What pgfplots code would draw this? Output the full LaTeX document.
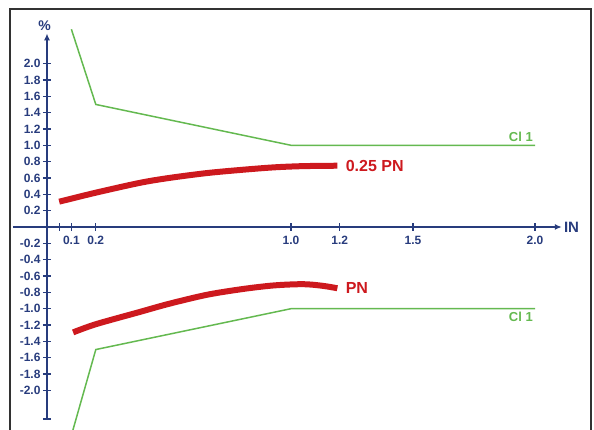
\documentclass[border=0pt]{standalone}
\usepackage{pgfplots}
\pgfplotsset{compat=1.18}
\usetikzlibrary{arrows.meta}
\usepackage{fontspec}
\setmainfont{Liberation Sans}
\definecolor{navy}{RGB}{40,60,125}
\definecolor{cgreen}{RGB}{100,185,80}
\definecolor{cred}{RGB}{205,25,30}
\definecolor{frame}{RGB}{50,50,50}
\begin{document}
\begin{tikzpicture}
\useasboundingbox (-47pt,-203pt) rectangle (547pt,227pt);
\begin{axis}[
  at={(0pt,0pt)}, anchor=origin,
  x=244pt, y=81.7pt,
  axis lines=middle,
  clip=false,
  xmin=-0.14, xmax=2.11, ymin=-2.35, ymax=2.37,
  axis line style={navy, line width=1.5pt, -{Latex[length=7pt,width=6pt]}},
  tick style={navy, line width=1.3pt},
  major tick length=8pt,
  tick align=center,
  xtick={0.05,0.1,0.2,1,1.2,1.5,2},
  xticklabels={,0.1,0.2,1.0,1.2,1.5,2.0},
  ytick={-2,-1.8,-1.6,-1.4,-1.2,-1,-0.8,-0.6,-0.4,-0.2,0.2,0.4,0.6,0.8,1,1.2,1.4,1.6,1.8,2},
  extra y ticks={-2.35},
  extra y tick labels={},
  ticklabel style={font=\bfseries\fontsize{12}{12}\selectfont, text=navy},
  yticklabel style={xshift=1pt, /pgf/number format/.cd, fixed, fixed zerofill, precision=1, assume math mode=true},
  xticklabel style={yshift=-2pt},
]
% upper tolerance limit
\addplot[cgreen, line width=1.5pt] coordinates {(0.1,2.42) (0.2,1.5) (1.0,1.0) (2.0,1.0)};
% lower tolerance limit
\addplot[cgreen, line width=1.5pt] coordinates {(0.1,-2.55) (0.2,-1.5) (1.0,-1.0) (2.0,-1.0)};
% 0.25 PN curve
\addplot[cred, line width=6pt, smooth] coordinates {
  (0.05,0.31) (0.2,0.42) (0.38,0.54) (0.5,0.60) (0.655,0.66) (0.8,0.70) (0.93,0.73) (1.05,0.745) (1.19,0.75)};
% PN curve
\addplot[cred, line width=6pt, smooth] coordinates {
  (0.107,-1.29) (0.2,-1.19) (0.38,-1.04) (0.5,-0.94) (0.655,-0.83) (0.8,-0.76) (0.93,-0.715) (1.05,-0.70) (1.13,-0.72) (1.19,-0.75)};
\node[anchor=west, text=cred, font=\bfseries\fontsize{16}{16}\selectfont] at (axis cs:1.21,0.75) {0.25 PN};
\node[anchor=west, text=cred, font=\bfseries\fontsize{16}{16}\selectfont] at (axis cs:1.21,-0.75) {PN};
\node[anchor=south east, text=cgreen, font=\bfseries\fontsize{13}{13}\selectfont, inner sep=2pt] at (axis cs:2.0,1.02) {Cl 1};
\node[anchor=north east, text=cgreen, font=\bfseries\fontsize{13}{13}\selectfont, inner sep=2pt] at (axis cs:2.0,-1.02) {Cl 1};
\node[anchor=west, text=navy, font=\bfseries\fontsize{15}{15}\selectfont, inner sep=2pt] at (axis cs:2.11,0) {IN};
\node[anchor=south, text=navy, font=\bfseries\fontsize{14}{14}\selectfont, inner sep=1pt] at (axis cs:-0.01,2.39) {\%};
\end{axis}
\draw[frame, line width=2pt] (-37pt,-230pt) rectangle (544pt,218pt);
\end{tikzpicture}
\end{document}
